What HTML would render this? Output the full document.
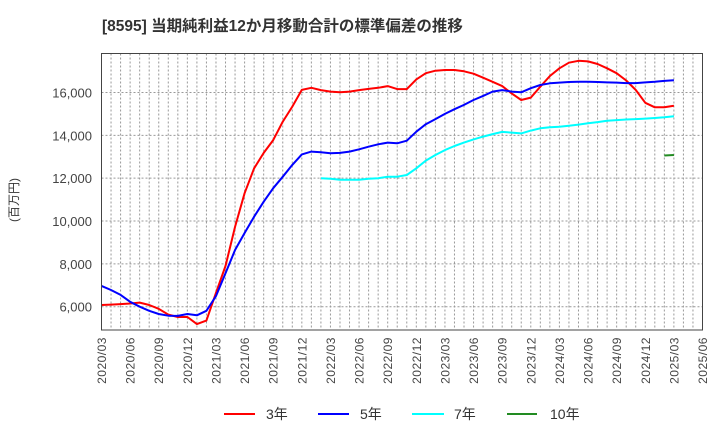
<!DOCTYPE html>
<html><head><meta charset="utf-8">
<style>
body{margin:0;background:#fff;font-family:"Liberation Sans","Noto Sans CJK JP",sans-serif;}
svg{display:block}
</style></head>
<body>
<svg id="chart" width="720" height="440" xmlns="http://www.w3.org/2000/svg">
<text x="102" y="31" font-size="15.5" font-weight="bold" fill="#333" font-family="Liberation Sans, Noto Sans CJK JP, sans-serif">[8595]  当期純利益12か月移動合計の標準偏差の推移</text>
<text transform="translate(18,200) rotate(-90)" font-size="12" fill="#333" text-anchor="middle" font-family="Liberation Sans, Noto Sans CJK JP, sans-serif">(百万円)</text>
<g id="grid"></g><g id="series"></g><g id="axes"></g>
<g font-size="14" fill="#333" font-family="Liberation Sans, Noto Sans CJK JP, sans-serif">
<line x1="224" y1="414" x2="255" y2="414" stroke="#ff0000" stroke-width="2"/>
<text x="266" y="419">3年</text>
<line x1="318" y1="414" x2="349" y2="414" stroke="#0000ff" stroke-width="2"/>
<text x="360" y="419">5年</text>
<line x1="412" y1="414" x2="444" y2="414" stroke="#00ffff" stroke-width="2"/>
<text x="454" y="419">7年</text>
<line x1="507" y1="414" x2="537" y2="414" stroke="#228b22" stroke-width="2"/>
<text x="550" y="419">10年</text>
</g>
</svg>
<script>
const xLabels=["2020/03","2020/06","2020/09","2020/12","2021/03","2021/06","2021/09","2021/12","2022/03","2022/06","2022/09","2022/12","2023/03","2023/06","2023/09","2023/12","2024/03","2024/06","2024/09","2024/12","2025/03","2025/06"];
const yTicks=[6000,8000,10000,12000,14000,16000];
const s3=[6080,6100,6120,6150,6190,6080,5900,5630,5520,5520,5190,5350,6650,7900,9740,11300,12460,13180,13780,14640,15340,16120,16220,16110,16040,16010,16040,16110,16170,16220,16300,16160,16160,16610,16900,17020,17050,17050,16990,16880,16690,16500,16300,15960,15650,15760,16270,16770,17130,17390,17480,17450,17330,17130,16900,16560,16120,15520,15310,15310,15380];
const s5=[6970,6780,6550,6230,6000,5810,5660,5580,5570,5660,5600,5810,6500,7560,8650,9440,10200,10900,11530,12070,12620,13110,13240,13210,13160,13180,13240,13350,13470,13580,13660,13630,13750,14170,14520,14760,15000,15220,15420,15650,15840,16040,16110,16040,16010,16200,16350,16430,16460,16490,16500,16500,16490,16470,16460,16440,16440,16470,16500,16540,16570];
const s7=[null,null,null,null,null,null,null,null,null,null,null,null,null,null,null,null,null,null,null,null,null,null,null,12000,11970,11930,11930,11930,11970,12000,12070,12070,12150,12460,12820,13080,13310,13500,13660,13810,13940,14060,14160,14130,14090,14220,14330,14380,14400,14450,14500,14560,14620,14680,14710,14740,14760,14780,14810,14840,14890];
const s10=[null,null,null,null,null,null,null,null,null,null,null,null,null,null,null,null,null,null,null,null,null,null,null,null,null,null,null,null,null,null,null,null,null,null,null,null,null,null,null,null,null,null,null,null,null,null,null,null,null,null,null,null,null,null,null,null,null,null,null,13060,13080];
const L=101.5,R=702.5,T=53.5,B=330,NM=63;
const X=i=>L+(R-L)*i/NM;
const Y=v=>306.7-(v-6000)*0.02142;
const NS="http://www.w3.org/2000/svg";
function mk(tag,attrs,parent){const e=document.createElementNS(NS,tag);for(const k in attrs)e.setAttribute(k,attrs[k]);parent.appendChild(e);return e;}
const grid=document.getElementById('grid'),axes=document.getElementById('axes'),ser=document.getElementById('series');
for(let i=1;i<NM;i++){const l=mk('line',{x1:X(i),x2:X(i),y1:T,y2:B,stroke:'#999','stroke-width':1,'stroke-dasharray':'2,2'},grid);

}
yTicks.forEach(v=>{const l=mk('line',{x1:L,x2:R,y1:Y(v),y2:Y(v),stroke:'#999','stroke-width':1,'stroke-dasharray':'2,2'},grid);


const t=mk('text',{x:92,y:Y(v)+5,'text-anchor':'end','font-size':13,fill:'#444'},axes);


t.textContent=v.toLocaleString('en-US');});
const fr=mk('rect',{x:L,y:T,width:R-L,height:B-T,fill:'none',stroke:'#444','stroke-width':1},axes);


xLabels.forEach((s,k)=>{const x=X(k*3);const t=mk('text',{transform:`translate(${x+4.5},337) rotate(-90)`,'text-anchor':'end','font-size':12,fill:'#444','letter-spacing':'0.5'},axes);


t.textContent=s;});
function draw(arr,color,name){let d='';let pen=false;arr.forEach((v,i)=>{if(v==null){pen=false;return;}d+=(pen?'L':'M')+X(i).toFixed(1)+','+Y(v).toFixed(1);pen=true;});
const p=mk('path',{d:d,fill:'none',stroke:color,'stroke-width':2,'stroke-linejoin':'round'},ser);

}
draw(s3,'#ff0000','series-3y-line');
draw(s5,'#0000ff','series-5y-line');
draw(s7,'#00ffff','series-7y-line');
draw(s10,'#228b22','series-10y-line');
</script>
</body></html>
